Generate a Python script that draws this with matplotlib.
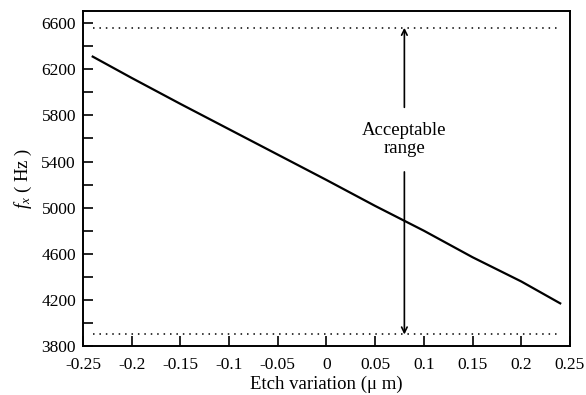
import matplotlib
matplotlib.use('Agg')
import matplotlib.pyplot as plt
from matplotlib.ticker import FixedLocator

# values
etch = [-0.24, -0.2, -0.15, -0.1, -0.05, 0.0, 0.05, 0.1, 0.15, 0.2, 0.24]
fx = [6310, 6125, 5900, 5680, 5460, 5240, 5015, 4800, 4570, 4360, 4170]

range_low = 3900
range_high = 6560
range_span = [-0.24, 0.24]
arrow_x = 0.08
label_text = 'Acceptable\nrange'

x_ticks = [-0.25, -0.2, -0.15, -0.1, -0.05, 0, 0.05, 0.1, 0.15, 0.2, 0.25]
x_tick_labels = ['-0.25', '-0.2', '-0.15', '-0.1', '-0.05', '0', '0.05', '0.1', '0.15', '0.2', '0.25']
y_ticks = [3800, 4200, 4600, 5000, 5400, 5800, 6200, 6600]
y_minor = [4000, 4400, 4800, 5200, 5600, 6000, 6400]

plt.rcParams['font.family'] = ['Liberation Serif', 'DejaVu Serif']
plt.rcParams['mathtext.fontset'] = 'custom'
plt.rcParams['mathtext.it'] = 'Liberation Serif:italic'
plt.rcParams['mathtext.rm'] = 'Liberation Serif'
plt.rcParams['axes.unicode_minus'] = False

fig = plt.figure(figsize=(5.86, 3.95), dpi=100)
ax = fig.add_axes([0.1416, 0.124, 0.831, 0.848])

ax.plot(etch, fx, color='black', linewidth=1.6)
ax.plot(range_span, [range_high, range_high], color='black', linewidth=1.1, linestyle=(0, (1, 3.2)))
ax.plot(range_span, [range_low, range_low], color='black', linewidth=1.1, linestyle=(0, (1, 3.2)))

# double arrow with text in the gap
ax.annotate('', xy=(arrow_x, range_high), xytext=(arrow_x, 5870),
            arrowprops=dict(arrowstyle='->', color='black', lw=1.2, shrinkA=0, shrinkB=0))
ax.annotate('', xy=(arrow_x, range_low), xytext=(arrow_x, 5310),
            arrowprops=dict(arrowstyle='->', color='black', lw=1.2, shrinkA=0, shrinkB=0))
ax.text(arrow_x, 5590, label_text, ha='center', va='center', fontsize=13.5, linespacing=1.1)

ax.set_xlim(-0.25, 0.25)
ax.set_ylim(3800, 6705)
ax.set_xticks(x_ticks)
ax.set_xticklabels(x_tick_labels)
ax.set_yticks(y_ticks)
ax.yaxis.set_minor_locator(FixedLocator(y_minor))
ax.tick_params(which='both', direction='in', length=7, width=1.2, labelsize=12.5)
ax.tick_params(axis='y', pad=5)
ax.tick_params(axis='x', pad=8)

for s in ax.spines.values():
    s.set_linewidth(1.4)

ax.set_xlabel('Etch variation (\u03bc m)', fontsize=13.5, labelpad=2)
ax.set_ylabel('$f_x$ ( Hz )', fontsize=13.5, labelpad=5)

fig.savefig('out.png', dpi=100)
